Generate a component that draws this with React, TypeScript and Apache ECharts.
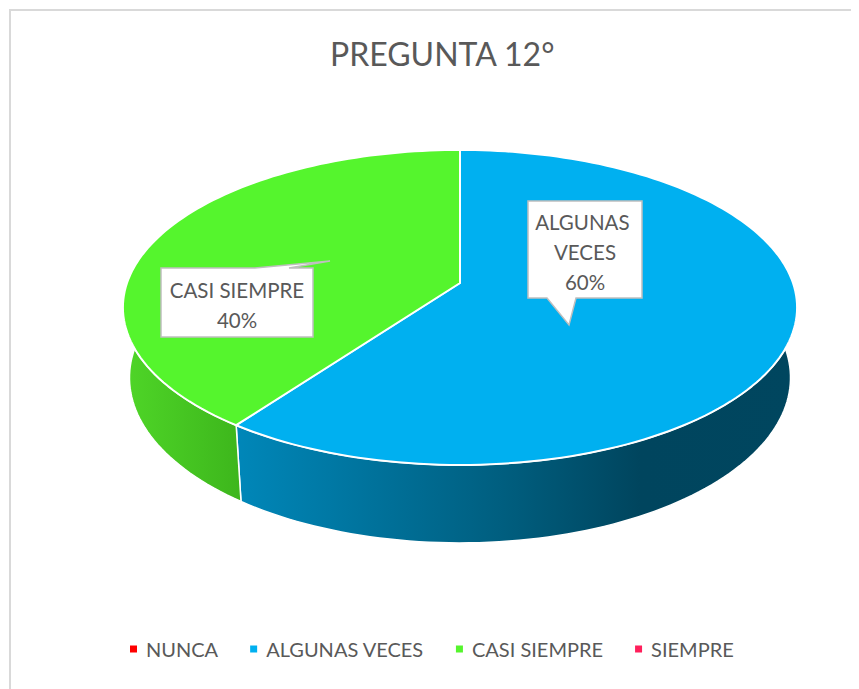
import { useEffect, useRef } from "react";
import * as echarts from "echarts";

// ---- data ----
const categories = ["NUNCA", "ALGUNAS VECES", "CASI SIEMPRE", "SIEMPRE"];
const values = [0, 60, 40, 0];
const topColors = ["#FF0000", "#00B0F0", "#55F52D", "#FF1F5B"];
const titleText = "PREGUNTA 12°";

// ---- layout / style (not data) ----
const FONT = "Lato, 'Open Sans', sans-serif";
const TEXT_COLOR = "#595959";
const PIE = { cx: 452, cy: 275, F: 333, s: 0.4616, c: 0.887, u: 0.175, t: 0.24 };
const sideStops: Array<Array<[number, string]>> = [
  [[0, "#C00000"], [1, "#800000"]],
  [[0, "#0087B9"], [0.5, "#005C7C"], [0.72, "#00455E"], [1, "#00465F"]],
  [[0, "#4FD628"], [1, "#3DB61C"]],
  [[0, "#D0184A"], [1, "#900F33"]],
];
type LabelBox = { x: number; y: number; w: number; h: number; side: "top" | "bottom"; b1: number; b2: number; tip: [number, number] } | null;
const labelBoxes: LabelBox[] = [
  null,
  { x: 520, y: 193, w: 114, h: 97, side: "bottom", b1: 539, b2: 568, tip: [561, 317] },
  { x: 153, y: 260, w: 152, h: 69, side: "top", b1: 247, b2: 281, tip: [322, 253] },
  null,
];

function project(phi: number, bottom: boolean): [number, number] {
  const { cx, cy, F, s, c, u, t } = PIE;
  const X = Math.sin(phi);
  const Z = -Math.cos(phi);
  const Y = bottom ? -t : 0;
  const down = Z * s - Y * c;
  const depth = Z * c + Y * s;
  const k = 1 / (1 - u * depth);
  return [cx + F * X * k, cy + F * down * k];
}

function arc(a0: number, a1: number, bottom: boolean): Array<[number, number]> {
  const n = Math.max(6, Math.ceil(((a1 - a0) * 180) / Math.PI / 1.5));
  const pts: Array<[number, number]> = [];
  for (let i = 0; i <= n; i++) pts.push(project(a0 + ((a1 - a0) * i) / n, bottom));
  return pts;
}

export default function App() {
  const ref = useRef<HTMLDivElement>(null);
  useEffect(() => {
    if (!ref.current) return;
    const chart = echarts.init(ref.current, undefined, { renderer: "svg" });
    const total = values.reduce((a, b) => a + b, 0);

    const renderItem = (params: any, api: any) => {
      const idx = params.dataIndex;
      const v = api.value(0);
      if (!v) return { type: "group", children: [] };
      let before = 0;
      for (let i = 0; i < idx; i++) before += values[i];
      const a0 = (before / total) * Math.PI * 2;
      const a1 = a0 + (v / total) * Math.PI * 2;
      const children: any[] = [];
      // side wall (front part)
      const lo = Math.max(a0, (80 * Math.PI) / 180);
      const hi = Math.min(a1, (280 * Math.PI) / 180);
      if (hi > lo) {
        const pts = arc(lo, hi, false).concat(arc(lo, hi, true).reverse());
        children.push({
          type: "polygon",
          z2: 1,
          shape: { points: pts },
          style: {
            fill: new echarts.graphic.LinearGradient(0, 0, 1, 0,
              sideStops[idx].map(([o, col]) => ({ offset: o, color: col }))),
            stroke: "#ffffff",
            lineWidth: 1.5,
            lineJoin: "round",
          },
        });
      }
      // top face
      const topPts = [project(0, false) && ([PIE.cx, PIE.cy] as [number, number])].concat(arc(a0, a1, false));
      children.push({
        type: "polygon",
        z2: 10,
        shape: { points: topPts },
        style: { fill: topColors[idx], stroke: "#ffffff", lineWidth: 2, lineJoin: "round" },
      });
      // callout label
      const lb = labelBoxes[idx];
      if (lb) {
        const { x, y, w, h, b1, b2, tip } = lb;
        const pts =
          lb.side === "bottom"
            ? [[x, y], [x + w, y], [x + w, y + h], [b2, y + h], tip, [b1, y + h], [x, y + h]]
            : [[x, y], [b1, y], tip, [b2, y], [x + w, y], [x + w, y + h], [x, y + h]];
        children.push({
          type: "polygon",
          z2: 20,
          shape: { points: pts },
          style: { fill: "#ffffff", stroke: "#BFBFBF", lineWidth: 1.5 },
        });
        const pct = Math.round((v / total) * 100) + "%";
        children.push({
          type: "text",
          z2: 30,
          style: {
            x: x + w / 2,
            y: y + h / 2 + 2,
            text: categories[idx] + "\n" + pct,
            width: w - 8,
            overflow: "break",
            align: "center",
            verticalAlign: "middle",
            fontFamily: FONT,
            fontSize: 20.5,
            lineHeight: 30,
            fill: TEXT_COLOR,
          },
        });
      }
      return { type: "group", children };
    };

    chart.setOption({
      animation: false,
      backgroundColor: "#ffffff",
      title: {
        text: titleText,
        left: 317,
        top: 24,
        textStyle: { fontFamily: FONT, fontSize: 32, fontWeight: "normal", color: TEXT_COLOR },
      },
      legend: {
        data: categories,
        left: 117,
        top: 626,
        icon: "rect",
        itemWidth: 7,
        itemHeight: 7,
        itemGap: 32,
        textStyle: { fontFamily: FONT, fontSize: 20, color: TEXT_COLOR, padding: [0, 0, 0, 4] },
      },
      graphic: [
        {
          type: "rect",
          silent: true,
          shape: { x: 2, y: 2, width: 1000, height: 1000 },
          style: { fill: "none", stroke: "#D9D9D9", lineWidth: 2 },
        },
      ],
      series: [
        {
          type: "custom",
          name: "slices",
          coordinateSystem: "none",
          renderItem,
          data: values.map((v) => [v]),
          silent: true,
        },
        {
          type: "pie",
          name: "legend",
          radius: [0, 0],
          center: [-100, -100],
          silent: true,
          label: { show: false },
          labelLine: { show: false },
          data: categories.map((n, i) => ({ name: n, value: values[i], itemStyle: { color: topColors[i] } })),
        },
      ],
    });
    return () => chart.dispose();
  }, []);
  return <div ref={ref} style={{ width: 851, height: 681 }} />;
}
